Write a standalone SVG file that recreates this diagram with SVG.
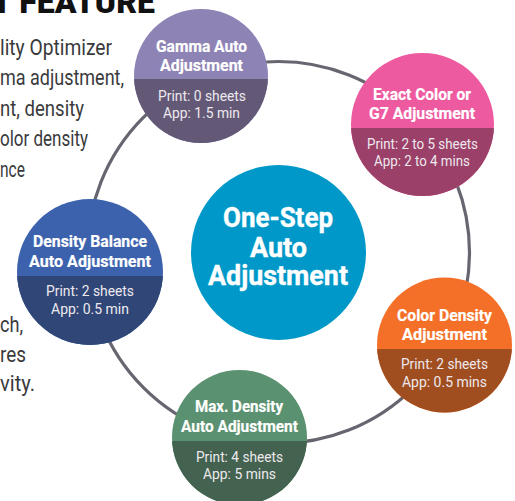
<svg xmlns="http://www.w3.org/2000/svg" width="515" height="501" viewBox="0 0 515 501">
<style>
text{font-family:Roboto,"Open Sans",sans-serif;}
.t{font-weight:700;font-size:16.5px;fill:#fff;stroke:#fff;stroke-width:.2px}
.s{font-size:15px;fill:#eee9ee}
.b{font-size:21.5px;fill:#3a3a3c}
.h{font-weight:900;font-size:31px;fill:#111}
.c{font-weight:700;font-size:28.5px;fill:#fff;stroke:#fff;stroke-width:.4px}
</style>
<defs>
<clipPath id="cg"><circle cx="201" cy="76" r="67"/></clipPath>
<clipPath id="ce"><circle cx="422.5" cy="124.5" r="71.5"/></clipPath>
<clipPath id="cb"><circle cx="90" cy="272" r="73"/></clipPath>
<clipPath id="cc"><circle cx="444.5" cy="345" r="67.5"/></clipPath>
<clipPath id="cm"><circle cx="239.5" cy="437.5" r="67.5"/></clipPath>
</defs>
<g id="page-text">
<text class="h" x="-8" y="13" textLength="163" lengthAdjust="spacingAndGlyphs">T FEATURE</text>
<text class="b" x="0" y="55" textLength="112" lengthAdjust="spacingAndGlyphs">lity Optimizer</text>
<text class="b" x="0" y="85" textLength="124" lengthAdjust="spacingAndGlyphs">ma adjustment,</text>
<text class="b" x="0" y="116" textLength="84" lengthAdjust="spacingAndGlyphs">nt, density</text>
<text class="b" x="0" y="146" textLength="88" lengthAdjust="spacingAndGlyphs">olor density</text>
<text class="b" x="0" y="177" textLength="25" lengthAdjust="spacingAndGlyphs">nce</text>
<text class="b" x="0" y="332" textLength="23" lengthAdjust="spacingAndGlyphs">ch,</text>
<text class="b" x="0" y="362" textLength="26" lengthAdjust="spacingAndGlyphs">res</text>
<text class="b" x="0" y="391" textLength="35" lengthAdjust="spacingAndGlyphs">vity.</text>
</g>
<g id="connectors"><circle cx="278.5" cy="252.5" r="191" fill="none" stroke="#666670" stroke-width="3.2"/></g>
<g id="center"><circle cx="278.5" cy="252.5" r="87.5" fill="#0098c8"/>
<text class="c" x="223" y="227" textLength="110" lengthAdjust="spacingAndGlyphs">One-Step</text>
<text class="c" x="250" y="257" textLength="57" lengthAdjust="spacingAndGlyphs">Auto</text>
<text class="c" x="208" y="285" textLength="140" lengthAdjust="spacingAndGlyphs">Adjustment</text></g>
<g id="gamma"><circle cx="201" cy="76" r="67" fill="#8d83b5"/><rect x="130" y="79" width="142" height="70" fill="#635977" clip-path="url(#cg)"/>
<text class="t" x="156" y="52" textLength="91" lengthAdjust="spacingAndGlyphs">Gamma Auto</text>
<text class="t" x="160" y="71" textLength="83" lengthAdjust="spacingAndGlyphs">Adjustment</text>
<text class="s" x="158" y="101" textLength="88" lengthAdjust="spacingAndGlyphs">Print: 0 sheets</text>
<text class="s" x="163" y="118" textLength="77" lengthAdjust="spacingAndGlyphs">App: 1.5 min</text></g>
<g id="exact"><circle cx="422.5" cy="124.5" r="71.5" fill="#ee5aa0"/><rect x="345" y="128" width="155" height="75" fill="#9b4069" clip-path="url(#ce)"/>
<text class="t" x="373" y="100" textLength="98" lengthAdjust="spacingAndGlyphs">Exact Color or</text>
<text class="t" x="369" y="119" textLength="106" lengthAdjust="spacingAndGlyphs">G7 Adjustment</text>
<text class="s" x="367" y="149" textLength="111" lengthAdjust="spacingAndGlyphs">Print: 2 to 5 sheets</text>
<text class="s" x="374" y="166" textLength="96" lengthAdjust="spacingAndGlyphs">App: 2 to 4 mins</text></g>
<g id="balance"><circle cx="90" cy="272" r="73" fill="#3d62ad"/><rect x="10" y="276" width="160" height="75" fill="#2f4677" clip-path="url(#cb)"/>
<text class="t" x="33" y="247" textLength="114" lengthAdjust="spacingAndGlyphs">Density Balance</text>
<text class="t" x="29" y="267" textLength="122" lengthAdjust="spacingAndGlyphs">Auto Adjustment</text>
<text class="s" x="46" y="296" textLength="88" lengthAdjust="spacingAndGlyphs">Print: 2 sheets</text>
<text class="s" x="51" y="314" textLength="78" lengthAdjust="spacingAndGlyphs">App: 0.5 min</text></g>
<g id="color"><circle cx="444.5" cy="345" r="67.5" fill="#f47028"/><rect x="370" y="349" width="150" height="70" fill="#a04e20" clip-path="url(#cc)"/>
<text class="t" x="397" y="321" textLength="95" lengthAdjust="spacingAndGlyphs">Color Density</text>
<text class="t" x="402" y="340" textLength="85" lengthAdjust="spacingAndGlyphs">Adjustment</text>
<text class="s" x="401" y="369" textLength="87" lengthAdjust="spacingAndGlyphs">Print: 2 sheets</text>
<text class="s" x="402" y="387" textLength="85" lengthAdjust="spacingAndGlyphs">App: 0.5 mins</text></g>
<g id="maxdensity"><circle cx="239.5" cy="437.5" r="67.5" fill="#5a9170"/><rect x="165" y="441" width="150" height="70" fill="#43624f" clip-path="url(#cm)"/>
<text class="t" x="195" y="412" textLength="88" lengthAdjust="spacingAndGlyphs">Max. Density</text>
<text class="t" x="181" y="432" textLength="117" lengthAdjust="spacingAndGlyphs">Auto Adjustment</text>
<text class="s" x="196" y="462" textLength="87" lengthAdjust="spacingAndGlyphs">Print: 4 sheets</text>
<text class="s" x="203" y="479" textLength="73" lengthAdjust="spacingAndGlyphs">App: 5 mins</text></g>
</svg>
